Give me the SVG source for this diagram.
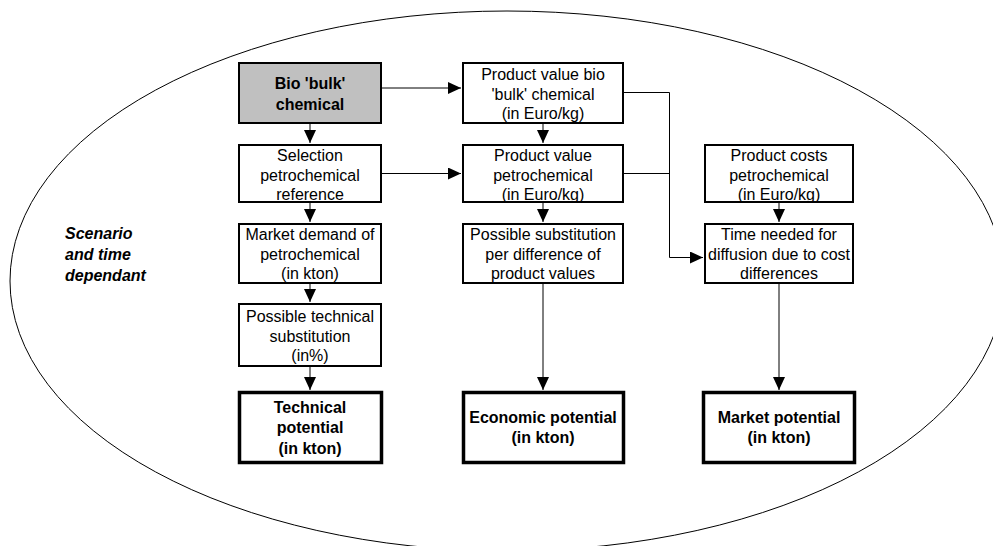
<svg xmlns="http://www.w3.org/2000/svg" width="993" height="546" viewBox="0 0 993 546">
<style>
.bx{fill:#fff;stroke:#000;stroke-width:2}
.gray{fill:#c0c0c0}
.pot{fill:#fff;stroke:#000;stroke-width:3.5}
text{font-family:"Liberation Sans",Arial,sans-serif;font-size:16px;fill:#000;text-anchor:middle}
.b{font-weight:bold}
.bi{font-weight:bold;font-style:italic;text-anchor:start}
.c{fill:none;stroke:#000;stroke-width:1}
</style>
<defs>
<marker id="ah" markerUnits="userSpaceOnUse" markerWidth="13" markerHeight="12" refX="13" refY="6" orient="auto">
<path d="M0,0 L13,6 L0,12 Z" fill="#000"/>
</marker>
</defs>
<ellipse cx="507" cy="281" rx="497" ry="270" fill="none" stroke="#000" stroke-width="1"/>
<text class="bi" x="65" y="239">Scenario</text>
<text class="bi" x="65" y="260">and time</text>
<text class="bi" x="65" y="281">dependant</text>

<g id="connectors">
<path class="c" d="M382,88 H461" marker-end="url(#ah)"/>
<path class="c" d="M382,173.5 H461" marker-end="url(#ah)"/>
<path class="c" d="M310,124 V143" marker-end="url(#ah)"/>
<path class="c" d="M310,203 V222" marker-end="url(#ah)"/>
<path class="c" d="M310,284 V302" marker-end="url(#ah)"/>
<path class="c" d="M310,367 V390" marker-end="url(#ah)"/>
<path class="c" d="M543,124 V143" marker-end="url(#ah)"/>
<path class="c" d="M543,203 V222" marker-end="url(#ah)"/>
<path class="c" d="M543,284 V390" marker-end="url(#ah)"/>
<path class="c" d="M779,203 V222" marker-end="url(#ah)"/>
<path class="c" d="M779,284 V390" marker-end="url(#ah)"/>
<path class="c" d="M624,92.5 H669.5 V257.5 H703" marker-end="url(#ah)"/>
<path class="c" d="M624,173.5 H669.5"/>
</g>

<g id="bio">
<rect class="bx gray" x="239" y="63" width="142" height="60"/>
<text class="b" x="310" y="89">Bio 'bulk'</text>
<text class="b" x="310" y="110">chemical</text>
</g>
<g id="selection">
<rect class="bx" x="239" y="145" width="142" height="57"/>
<text x="310" y="161">Selection</text>
<text x="310" y="180.5">petrochemical</text>
<text x="310" y="200">reference</text>
</g>
<g id="marketdemand">
<rect class="bx" x="239" y="224" width="142" height="59"/>
<text x="310" y="240">Market demand of</text>
<text x="310" y="259.5">petrochemical</text>
<text x="310" y="279">(in kton)</text>
</g>
<g id="techsub">
<rect class="bx" x="239" y="304" width="142" height="62"/>
<text x="310" y="322">Possible technical</text>
<text x="310" y="341.5">substitution</text>
<text x="310" y="361">(in%)</text>
</g>
<g id="techpot">
<rect class="pot" x="239.5" y="392.5" width="142" height="70"/>
<text class="b" x="310" y="413">Technical</text>
<text class="b" x="310" y="433">potential</text>
<text class="b" x="310" y="454">(in kton)</text>
</g>

<g id="pvbio">
<rect class="bx" x="463" y="63" width="160" height="60"/>
<text x="543" y="80">Product value bio</text>
<text x="543" y="99.5">'bulk' chemical</text>
<text x="543" y="119">(in Euro/kg)</text>
</g>
<g id="pvpetro">
<rect class="bx" x="463" y="145" width="160" height="57"/>
<text x="543" y="161">Product value</text>
<text x="543" y="180.5">petrochemical</text>
<text x="543" y="200">(in Euro/kg)</text>
</g>
<g id="possub">
<rect class="bx" x="463" y="224" width="160" height="59"/>
<text x="543" y="240">Possible substitution</text>
<text x="543" y="259.5">per difference of</text>
<text x="543" y="279">product values</text>
</g>
<g id="econpot">
<rect class="pot" x="463.5" y="392.5" width="160" height="70"/>
<text class="b" x="543" y="423">Economic potential</text>
<text class="b" x="543" y="443">(in kton)</text>
</g>

<g id="costs">
<rect class="bx" x="705" y="145" width="148" height="57"/>
<text x="779" y="161">Product costs</text>
<text x="779" y="180.5">petrochemical</text>
<text x="779" y="200">(in Euro/kg)</text>
</g>
<g id="time">
<rect class="bx" x="705" y="224" width="148" height="59"/>
<text x="779" y="240">Time needed for</text>
<text x="779" y="259.5">diffusion due to cost</text>
<text x="779" y="279">differences</text>
</g>
<g id="marketpot">
<rect class="pot" x="703.5" y="392.5" width="151" height="70"/>
<text class="b" x="779" y="423">Market potential</text>
<text class="b" x="779" y="443">(in kton)</text>
</g>
</svg>
